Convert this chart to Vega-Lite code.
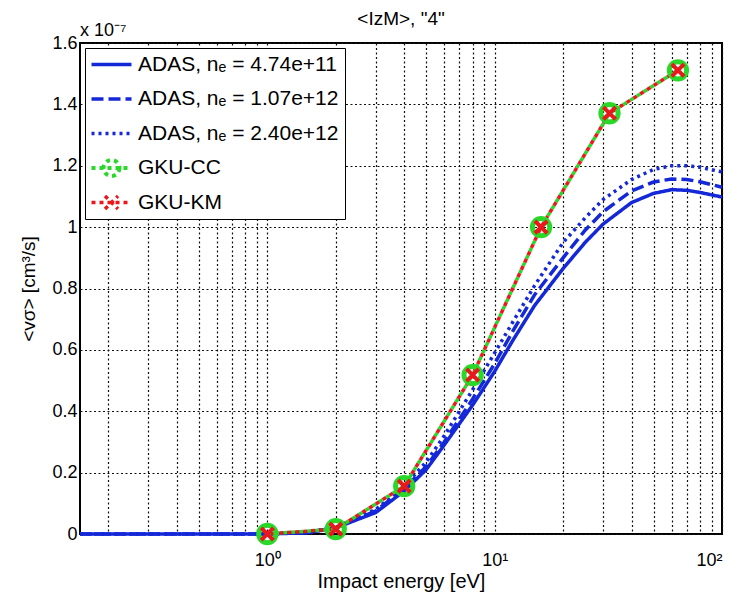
{
  "$schema": "https://vega.github.io/schema/vega-lite/v6.json",
  "autosize": "none",
  "width": 642,
  "height": 491,
  "padding": {"left": 80, "top": 43, "right": 18, "bottom": 61},
  "config": {
    "font": "Liberation Sans",
    "view": {"stroke": "black", "strokeWidth": 2},
    "axis": {"labelColor": "black", "titleColor": "black", "labelFont": "Liberation Sans", "titleFont": "Liberation Sans", "titleFontWeight": "normal", "domain": false, "ticks": false, "gridColor": "#111", "gridOpacity": 1, "gridDash": [2, 2.5], "gridWidth": 1.2}
  },
  "title": {"text": "<IzM>, \"4\"", "fontSize": 19, "fontWeight": "normal", "font": "Liberation Sans", "color": "black", "offset": -7},
  "datasets": {
    "curves": [
      {"series": "ADAS, nₑ = 4.74e+11", "E": 0.15, "v": 0},
      {"series": "ADAS, nₑ = 4.74e+11", "E": 1, "v": 0},
      {"series": "ADAS, nₑ = 4.74e+11", "E": 1.5, "v": 0.004},
      {"series": "ADAS, nₑ = 4.74e+11", "E": 2, "v": 0.02},
      {"series": "ADAS, nₑ = 4.74e+11", "E": 3, "v": 0.07},
      {"series": "ADAS, nₑ = 4.74e+11", "E": 4, "v": 0.14},
      {"series": "ADAS, nₑ = 4.74e+11", "E": 5, "v": 0.21},
      {"series": "ADAS, nₑ = 4.74e+11", "E": 6, "v": 0.29},
      {"series": "ADAS, nₑ = 4.74e+11", "E": 8, "v": 0.42},
      {"series": "ADAS, nₑ = 4.74e+11", "E": 10, "v": 0.53},
      {"series": "ADAS, nₑ = 4.74e+11", "E": 12, "v": 0.63},
      {"series": "ADAS, nₑ = 4.74e+11", "E": 15, "v": 0.745},
      {"series": "ADAS, nₑ = 4.74e+11", "E": 20, "v": 0.865},
      {"series": "ADAS, nₑ = 4.74e+11", "E": 25, "v": 0.95},
      {"series": "ADAS, nₑ = 4.74e+11", "E": 30, "v": 1.01},
      {"series": "ADAS, nₑ = 4.74e+11", "E": 40, "v": 1.08},
      {"series": "ADAS, nₑ = 4.74e+11", "E": 50, "v": 1.11},
      {"series": "ADAS, nₑ = 4.74e+11", "E": 60, "v": 1.122},
      {"series": "ADAS, nₑ = 4.74e+11", "E": 70, "v": 1.12},
      {"series": "ADAS, nₑ = 4.74e+11", "E": 80, "v": 1.113},
      {"series": "ADAS, nₑ = 4.74e+11", "E": 100, "v": 1.098},
      {"series": "ADAS, nₑ = 1.07e+12", "E": 0.15, "v": 0},
      {"series": "ADAS, nₑ = 1.07e+12", "E": 1, "v": 0},
      {"series": "ADAS, nₑ = 1.07e+12", "E": 1.5, "v": 0.005},
      {"series": "ADAS, nₑ = 1.07e+12", "E": 2, "v": 0.021},
      {"series": "ADAS, nₑ = 1.07e+12", "E": 3, "v": 0.075},
      {"series": "ADAS, nₑ = 1.07e+12", "E": 4, "v": 0.148},
      {"series": "ADAS, nₑ = 1.07e+12", "E": 5, "v": 0.22},
      {"series": "ADAS, nₑ = 1.07e+12", "E": 6, "v": 0.30},
      {"series": "ADAS, nₑ = 1.07e+12", "E": 8, "v": 0.44},
      {"series": "ADAS, nₑ = 1.07e+12", "E": 10, "v": 0.555},
      {"series": "ADAS, nₑ = 1.07e+12", "E": 12, "v": 0.66},
      {"series": "ADAS, nₑ = 1.07e+12", "E": 15, "v": 0.78},
      {"series": "ADAS, nₑ = 1.07e+12", "E": 20, "v": 0.90},
      {"series": "ADAS, nₑ = 1.07e+12", "E": 25, "v": 0.99},
      {"series": "ADAS, nₑ = 1.07e+12", "E": 30, "v": 1.05},
      {"series": "ADAS, nₑ = 1.07e+12", "E": 40, "v": 1.118},
      {"series": "ADAS, nₑ = 1.07e+12", "E": 50, "v": 1.147},
      {"series": "ADAS, nₑ = 1.07e+12", "E": 60, "v": 1.157},
      {"series": "ADAS, nₑ = 1.07e+12", "E": 70, "v": 1.155},
      {"series": "ADAS, nₑ = 1.07e+12", "E": 80, "v": 1.148},
      {"series": "ADAS, nₑ = 1.07e+12", "E": 100, "v": 1.13},
      {"series": "ADAS, nₑ = 2.40e+12", "E": 0.15, "v": 0},
      {"series": "ADAS, nₑ = 2.40e+12", "E": 1, "v": 0},
      {"series": "ADAS, nₑ = 2.40e+12", "E": 1.5, "v": 0.006},
      {"series": "ADAS, nₑ = 2.40e+12", "E": 2, "v": 0.022},
      {"series": "ADAS, nₑ = 2.40e+12", "E": 3, "v": 0.08},
      {"series": "ADAS, nₑ = 2.40e+12", "E": 4, "v": 0.155},
      {"series": "ADAS, nₑ = 2.40e+12", "E": 5, "v": 0.235},
      {"series": "ADAS, nₑ = 2.40e+12", "E": 6, "v": 0.32},
      {"series": "ADAS, nₑ = 2.40e+12", "E": 8, "v": 0.47},
      {"series": "ADAS, nₑ = 2.40e+12", "E": 10, "v": 0.59},
      {"series": "ADAS, nₑ = 2.40e+12", "E": 12, "v": 0.69},
      {"series": "ADAS, nₑ = 2.40e+12", "E": 15, "v": 0.81},
      {"series": "ADAS, nₑ = 2.40e+12", "E": 20, "v": 0.95},
      {"series": "ADAS, nₑ = 2.40e+12", "E": 25, "v": 1.03},
      {"series": "ADAS, nₑ = 2.40e+12", "E": 30, "v": 1.09},
      {"series": "ADAS, nₑ = 2.40e+12", "E": 40, "v": 1.155},
      {"series": "ADAS, nₑ = 2.40e+12", "E": 50, "v": 1.188},
      {"series": "ADAS, nₑ = 2.40e+12", "E": 60, "v": 1.2},
      {"series": "ADAS, nₑ = 2.40e+12", "E": 70, "v": 1.2},
      {"series": "ADAS, nₑ = 2.40e+12", "E": 80, "v": 1.195},
      {"series": "ADAS, nₑ = 2.40e+12", "E": 100, "v": 1.18},
      {"series": "GKU-CC", "E": 1, "v": 0},
      {"series": "GKU-CC", "E": 2, "v": 0.016},
      {"series": "GKU-CC", "E": 4, "v": 0.156},
      {"series": "GKU-CC", "E": 8, "v": 0.518},
      {"series": "GKU-CC", "E": 16, "v": 1.0},
      {"series": "GKU-CC", "E": 32, "v": 1.371},
      {"series": "GKU-CC", "E": 64, "v": 1.511},
      {"series": "GKU-KM", "E": 1, "v": 0},
      {"series": "GKU-KM", "E": 2, "v": 0.016},
      {"series": "GKU-KM", "E": 4, "v": 0.156},
      {"series": "GKU-KM", "E": 8, "v": 0.518},
      {"series": "GKU-KM", "E": 16, "v": 1.0},
      {"series": "GKU-KM", "E": 32, "v": 1.371},
      {"series": "GKU-KM", "E": 64, "v": 1.511}
    ],
    "note": [{"E": 0.15, "v": 1.6, "label": "x 10⁻⁷"}]
  },
  "encoding": {
    "x": {"field": "E", "type": "quantitative", "scale": {"type": "log", "domain": [0.15, 100], "nice": false},
      "axis": {"title": "Impact energy [eV]", "titleFontSize": 20, "titlePadding": 2, "labelFontSize": 18, "labelPadding": 17,
        "values": [0.2,0.3,0.4,0.5,0.6,0.7,0.8,0.9,1,2,3,4,5,6,7,8,9,10,20,30,40,50,60,70,80,90,100],
        "labelExpr": "datum.value == 1 ? '10⁰' : datum.value == 10 ? '10¹' : datum.value == 100 ? '10²' : ''"}},
    "y": {"field": "v", "type": "quantitative", "scale": {"domain": [0, 1.6], "nice": false},
      "axis": {"title": "<vσ> [cm³/s]", "titleFontSize": 19, "titlePadding": 13, "labelFontSize": 18, "labelPadding": 3,
        "values": [0,0.2,0.4,0.6,0.8,1,1.2,1.4,1.6], "format": "~g"}}
  },
  "layer": [
    {
      "data": {"name": "curves"},
      "transform": [{"filter": "datum.series != 'GKU-KM'"}],
      "mark": {"type": "line", "strokeWidth": 3.5},
      "encoding": {
        "color": {"field": "series", "type": "nominal", "sort": null,
          "scale": {"domain": ["ADAS, nₑ = 4.74e+11", "ADAS, nₑ = 1.07e+12", "ADAS, nₑ = 2.40e+12", "GKU-CC", "GKU-KM"], "range": ["#1428d8", "#1428d8", "#1428d8", "#2ad82a", "#e8191c"]},
          "legend": {"title": null, "orient": "top-left", "offset": 5, "symbolType": "stroke", "symbolSize": 400, "symbolStrokeWidth": 3.5, "labelFontSize": 21, "labelFont": "Liberation Sans", "labelColor": "black", "labelLimit": 0, "strokeColor": "black", "fillColor": "white", "padding": 6, "rowPadding": 12.5, "labelOffset": 26, "symbolLimit": 0,
            "encode": {"symbols": {"update": {
              "shape": {"signal": "datum.value == 'GKU-CC' ? 'M-1,0L3,0M1.8,0A0.8,0.8,0,1,1,0.2,0A0.8,0.8,0,1,1,1.8,0' : datum.value == 'GKU-KM' ? 'M-1,0L3,0M0.35,-0.65L1.65,0.65M0.35,0.65L1.65,-0.65' : 'M-1,0L3,0'"},
              "strokeWidth": {"signal": "datum.value == 'GKU-CC' ? 4 : 3.5"},
              "strokeJoin": {"value": "round"},
              "strokeDash": {"signal": "datum.value == 'ADAS, nₑ = 1.07e+12' ? [12, 5] : datum.value == 'ADAS, nₑ = 2.40e+12' ? [3, 4] : []"}
            }}}}},
        "strokeDash": {"field": "series", "type": "nominal", "sort": null,
          "scale": {"domain": ["ADAS, nₑ = 4.74e+11", "ADAS, nₑ = 1.07e+12", "ADAS, nₑ = 2.40e+12", "GKU-CC", "GKU-KM"], "range": [[1, 0], [12, 5], [3, 4], [4, 4], [4, 4]]},
          "legend": null}
      }
    },
    {
      "data": {"name": "curves"},
      "transform": [{"filter": "datum.series == 'GKU-KM'"}],
      "mark": {"type": "line", "strokeWidth": 3.5, "strokeDashOffset": 4},
      "encoding": {
        "color": {"field": "series", "type": "nominal", "sort": null},
        "strokeDash": {"field": "series", "type": "nominal", "sort": null, "legend": null}
      }
    },
    {
      "data": {"name": "curves"},
      "transform": [{"filter": "datum.series == 'GKU-CC'"}],
      "mark": {"type": "point", "shape": "circle", "filled": false, "size": 300, "strokeWidth": 5, "color": "#2ad82a", "opacity": 1},
      "encoding": {}
    },
    {
      "data": {"name": "curves"},
      "transform": [{"filter": "datum.series == 'GKU-KM'"}],
      "mark": {"type": "point", "shape": "M-1,-1L1,1M-1,1L1,-1", "filled": false, "size": 150, "strokeWidth": 4, "color": "#e8191c", "opacity": 1},
      "encoding": {}
    },
    {
      "data": {"name": "note"},
      "mark": {"type": "text", "align": "left", "baseline": "bottom", "dy": -3, "fontSize": 18, "font": "Liberation Sans", "color": "black"},
      "encoding": {"text": {"field": "label"}}
    }
  ]
}
